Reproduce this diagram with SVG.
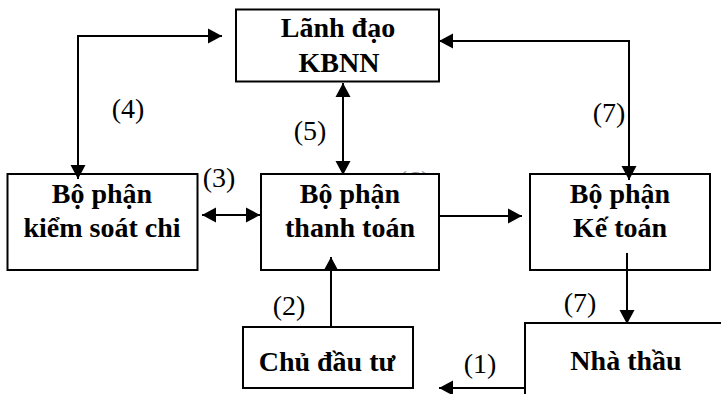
<svg xmlns="http://www.w3.org/2000/svg" width="721" height="394" viewBox="0 0 721 394">
<style>
.box{fill:#fff;stroke:#000;stroke-width:2}
.t{font-weight:bold;font-size:28px;text-anchor:middle;fill:#000}
.l{font-size:28px;text-anchor:middle;fill:#000}
.c{fill:none;stroke:#000;stroke-width:2}
</style>
<defs>
<marker id="ah" markerUnits="userSpaceOnUse" markerWidth="16" markerHeight="16" refX="14" refY="7.5" orient="auto-start-reverse" viewBox="0 0 16 15">
<path d="M0,0 L14,7.5 L0,15 Z" fill="#000"/>
</marker>
</defs>
<g id="labels" font-family="Liberation Serif, serif">
<text class="l" x="414" y="190" style="fill:#999">(6)</text>
<text class="l" x="128" y="118">(4)</text>
<text class="l" x="310" y="140">(5)</text>
<text class="l" x="219" y="187">(3)</text>
<text class="l" x="609" y="122">(7)</text>
<text class="l" x="580" y="312">(7)</text>
<text class="l" x="289" y="315">(2)</text>
<text class="l" x="480" y="373">(1)</text>
</g>
<g id="lanh-dao" font-family="Liberation Serif, serif">
<rect class="box" x="236" y="9.5" width="203" height="72"/>
<text class="t" x="338" y="37">Lãnh đạo</text>
<text class="t" x="339" y="72">KBNN</text>
</g>
<g id="kiem-soat-chi" font-family="Liberation Serif, serif">
<rect class="box" x="7.5" y="174" width="190" height="96"/>
<text class="t" x="102" y="203">Bộ phận</text>
<text class="t" x="102" y="237">kiểm soát chi</text>
</g>
<g id="thanh-toan" font-family="Liberation Serif, serif">
<rect class="box" x="261" y="174" width="178" height="96"/>
<text class="t" x="350" y="203">Bộ phận</text>
<text class="t" x="350" y="237">thanh toán</text>
</g>
<g id="ke-toan" font-family="Liberation Serif, serif">
<rect class="box" x="530" y="174" width="180" height="96"/>
<text class="t" x="620" y="203">Bộ phận</text>
<text class="t" x="620" y="237">Kế toán</text>
</g>
<g id="chu-dau-tu" font-family="Liberation Serif, serif">
<rect class="box" x="243" y="327" width="170" height="61"/>
<text class="t" x="327" y="371">Chủ đầu tư</text>
</g>
<g id="nha-thau" font-family="Liberation Serif, serif">
<path class="c" d="M525,394 V323 H721"/>
<text class="t" x="626" y="370">Nhà thầu</text>
</g>
<g id="connectors">
<path class="c" d="M78,174 V36 H222" marker-end="url(#ah)"/>
<path class="c" d="M78,120 V179" marker-end="url(#ah)"/>
<path class="c" d="M343,83 V175" marker-start="url(#ah)" marker-end="url(#ah)"/>
<path class="c" d="M439,41 H629 V180" marker-start="url(#ah)" marker-end="url(#ah)"/>
<path class="c" d="M202,215 H260" marker-start="url(#ah)" marker-end="url(#ah)"/>
<path class="c" d="M439,216 H522" marker-end="url(#ah)"/>
<path class="c" d="M627,253 V324" marker-end="url(#ah)"/>
<path class="c" d="M331,327 V257" marker-end="url(#ah)"/>
<path class="c" d="M524,388 H439" marker-end="url(#ah)"/>
</g>
</svg>
